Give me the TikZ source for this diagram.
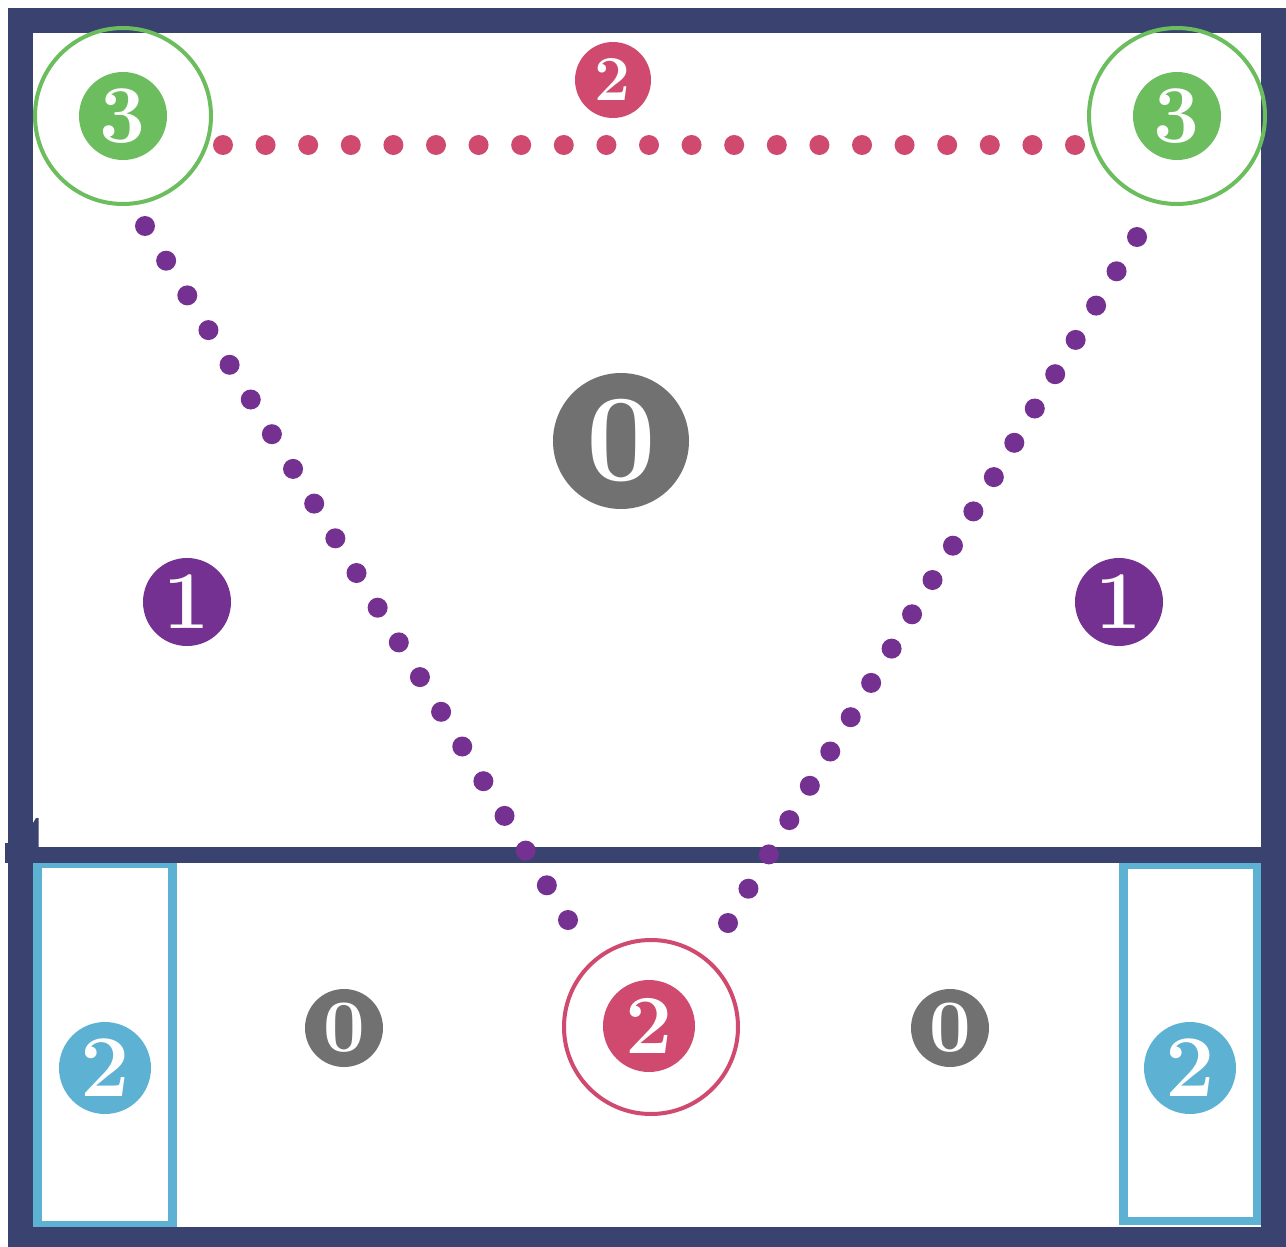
\documentclass[tikz,border=0pt]{standalone}
\usepackage{fontspec}
\usetikzlibrary{calc}
\begin{document}
\begin{tikzpicture}[x=1pt,y=-1pt,
  navy/.style={draw=navyc},
  disc/.style={circle,inner sep=0pt,text=white,font=\bfseries},
  ring/.style={circle,draw,line width=4pt,inner sep=0pt,fill=none},
  cyanbox/.style={draw=cyanc,line width=8.5pt},
]
\definecolor{navyc}{HTML}{3A4270}
\definecolor{greenc}{HTML}{6BBD5E}
\definecolor{redc}{HTML}{CF4A6E}
\definecolor{purplec}{HTML}{743191}
\definecolor{grayc}{HTML}{717171}
\definecolor{cyanc}{HTML}{5DB2D4}
\useasboundingbox (0,0) rectangle (1286,1247);
\fill[white] (0,0) rectangle (1286,1247);
\begin{scope}
\clip (0,0) rectangle (1286,1247);
% cyan boxes
\draw[cyanbox] (37.5,864) rectangle (172.5,1225);
\draw[cyanbox] (1123.5,865) rectangle (1257,1221);
% frame
\draw[navyc,line width=25pt] (20.5,20.5) rectangle (1273.5,1239.5);
\fill[navyc] (5,847) rectangle (1265,863);
\fill[navyc] (5,843) rectangle (9,863);
\fill[navyc] (33,847) -- (33,823) -- (36,818) -- (38.5,818) -- (38.5,847) -- cycle;
\end{scope}
% rings
\node[ring,draw=greenc,minimum size=176pt] (gl) at (123,116) {};
\node[ring,draw=greenc,minimum size=176pt] (gr) at (1177,116) {};
\node[ring,draw=redc,minimum size=174pt] (rb) at (651,1027) {};
% dotted lines
\coordinate (a1) at (223,145); \coordinate (a2) at (1075,145);
\coordinate (b1) at (145,226); \coordinate (b2) at (568,920);
\coordinate (c1) at (1137,237); \coordinate (c2) at (728,923);
\foreach \i in {0,...,20}{
  \fill[redc] ($(a1)!\i/20!(a2)$) circle (10pt);
  \fill[purplec] ($(b1)!\i/20!(b2)$) circle (10pt);
  \fill[purplec] ($(c1)!\i/20!(c2)$) circle (10pt);
}
% discs
\node[disc,fill=greenc,minimum size=88pt,font=\bfseries\fontsize{82}{82}\selectfont] (g3l) at (123,116) {3};
\node[disc,fill=greenc,minimum size=88pt,font=\bfseries\fontsize{82}{82}\selectfont] (g3r) at (1177,116) {3};
\node[disc,fill=redc,minimum size=76pt,font=\bfseries\fontsize{64}{64}\selectfont] (r2t) at (613,80) {2};
\node[disc,fill=grayc,minimum size=136pt,font=\bfseries\fontsize{124}{124}\selectfont] (g0) at (621,441) {0};
\node[disc,fill=purplec,minimum size=88pt,font=\bfseries\fontsize{82}{82}\selectfont] (p1l) at (187,602) {1};
\node[disc,fill=purplec,minimum size=88pt,font=\bfseries\fontsize{82}{82}\selectfont] (p1r) at (1119,602) {1};
\node[disc,fill=grayc,minimum size=78pt,font=\bfseries\fontsize{74}{74}\selectfont] (g0l) at (344,1028) {0};
\node[disc,fill=grayc,minimum size=78pt,font=\bfseries\fontsize{74}{74}\selectfont] (g0r) at (950,1028) {0};
\node[disc,fill=redc,minimum size=92pt,font=\bfseries\fontsize{84}{84}\selectfont] (r2b) at (649,1026) {2};
\node[disc,fill=cyanc,minimum size=92pt,font=\bfseries\fontsize{88}{88}\selectfont] (c2l) at (105,1068) {2};
\node[disc,fill=cyanc,minimum size=92pt,font=\bfseries\fontsize{88}{88}\selectfont] (c2r) at (1190,1068) {2};
\end{tikzpicture}
\end{document}
